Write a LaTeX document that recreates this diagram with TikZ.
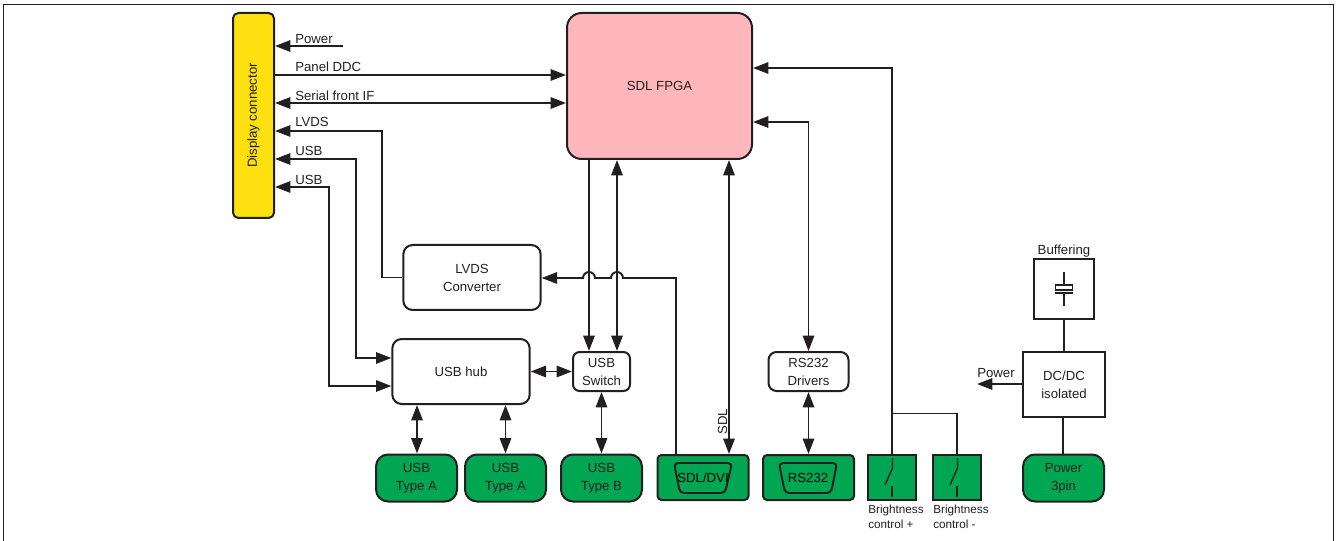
\documentclass[tikz,border=0pt]{standalone}
\usepackage{fontspec}
\setmainfont{Liberation Sans}
\usetikzlibrary {arrows.meta}
\usetikzlibrary {shapes.geometric}
\definecolor{boardgreen}{RGB}{0,166,81}
\definecolor{fpgapink}{RGB}{255,183,188}
\definecolor{connyellow}{RGB}{253,224,16}
\definecolor{inkgrey}{RGB}{35,31,32}
\tikzset{
  block/.style={draw=inkgrey, line width=1.5pt, rounded corners=7pt, align=center, inner sep=0pt, font=\fontsize{9.9pt}{13.5pt}\selectfont, text=inkgrey},
  plainbox/.style={block, rounded corners=0pt},
  portbox/.style={block, fill=boardgreen, rounded corners=9pt},
  jackbox/.style={block, fill=boardgreen, rounded corners=3pt},
  wire/.style={draw=inkgrey, line width=1.45pt},
  oneway/.style={wire, -{Triangle[length=11.5pt,width=8.5pt]}},
  twoway/.style={wire, {Triangle[length=11.5pt,width=8.5pt]}-{Triangle[length=11.5pt,width=8.5pt]}},
  lbl/.style={font=\fontsize{9.9pt}{12pt}\selectfont, text=inkgrey, inner sep=0pt},
  smalllbl/.style={font=\fontsize{8.8pt}{11pt}\selectfont, text=inkgrey, inner sep=0pt, align=left},
}
\begin{document}
\begin{tikzpicture}[x=0.75pt, y=-0.75pt]
        \useasboundingbox (0, 0) rectangle (1337, 541);
        % frame
        \draw [line width=1pt, color=inkgrey] (3.5, 541) -- (3.5, 4.5) -- (1333.5, 4.5) -- (1333.5, 541);
        % top row
        \node [block, fill=connyellow, minimum width=30.75pt, minimum height=153.75pt, rounded corners=4pt] (display) at (253.5, 115.5) {\rotatebox{90}{Display connector}};
        \node [block, fill=fpgapink, minimum width=138.75pt, minimum height=109.5pt, rounded corners=11pt] (fpga) at (659.5, 86) {SDL FPGA};
        % middle row
        \node [block, minimum width=103pt, minimum height=48.75pt] (lvds) at (472, 277.5) {LVDS\\Converter};
        \node [block, minimum width=103pt, minimum height=48.75pt] (hub) at (461, 371.5) {USB hub};
        \node [block, minimum width=42.75pt, minimum height=29.25pt, rounded corners=5pt] (switch) at (601.5, 371.5) {USB\\Switch};
        \node [block, minimum width=60pt, minimum height=29.25pt, rounded corners=6pt] (drivers) at (808.5, 371.5) {RS232\\Drivers};
        \node [plainbox, minimum width=45pt, minimum height=45pt] (buffer) at (1064, 289) {};
        \node [plainbox, minimum width=61.5pt, minimum height=48.75pt] (dcdc) at (1064, 384.5) {DC/DC\\isolated};
        % bottom row
        \node [portbox, minimum width=60.75pt, minimum height=35.25pt] (typea) at (416.5, 478) {USB\\Type A};
        \node [portbox, minimum width=60.75pt, minimum height=35.25pt] (typeb) at (505.5, 478) {USB\\Type A};
        \node [portbox, minimum width=60.75pt, minimum height=35.25pt] (typec) at (601.5, 478) {USB\\Type B};
        \node [jackbox, minimum width=68.25pt, minimum height=33.75pt] (dvi) at (703, 477.5) {};
        \node [jackbox, minimum width=68.25pt, minimum height=33.75pt] (serial) at (808.5, 477.5) {};
        \node [plainbox, fill=boardgreen, minimum width=36pt, minimum height=33.75pt] (brightup) at (892, 477.5) {};
        \node [plainbox, fill=boardgreen, minimum width=36pt, minimum height=33.75pt] (brightdown) at (957, 477.5) {};
        \node [portbox, minimum width=60.75pt, minimum height=35.25pt] (power) at (1063.5, 478) {Power\\3pin};
        % connector faces
        \draw [wire, fill=boardgreen, rounded corners=3pt] (674, 463) -- (732, 463) -- (725, 493) -- (680, 493) -- cycle;
        \node [lbl, text=black] (dvilabel) at (703, 478) {SDL/DVI};
        \draw [wire, fill=boardgreen, rounded corners=3pt] (779, 463) -- (837, 463) -- (831, 493) -- (785, 493) -- cycle;
        \node [lbl, text=black] (seriallabel) at (808, 478) {RS232};
        % switches
        \foreach \n/\sx in {up/892, down/957} {
          \draw [wire, line width=1pt] (\sx+0.5, 458) -- (\sx+0.5, 468) -- (\sx-7, 485);
          \draw [wire] (\sx, 486) -- (\sx, 497);
        }
        % capacitor
        \draw [wire] (1064, 272) -- (1064, 285) (1064, 293) -- (1064, 306);
        \draw [wire, fill=white] (1055.5, 285) rectangle (1072.5, 290);
        \draw [wire] (1055, 293) -- (1073, 293);
        % left side
        \coordinate (powerend) at (343, 46);
        \draw [oneway] (powerend) -- (display.east |- powerend);
        \node [lbl, anchor=base west] (powerlabel) at (295, 43.5) {Power};
        \draw [oneway] (display.east |- 0, 75) -- (fpga.west |- 0, 75);
        \node [lbl, anchor=base west] (ddclabel) at (295, 71.5) {Panel DDC};
        \draw [twoway] (display.east |- 0, 103) -- (fpga.west |- 0, 103);
        \node [lbl, anchor=base west] (seriallbl) at (295, 100.5) {Serial front IF};
        \draw [oneway] (lvds.west) -- (382, 277.5) -- (382, 131) -- (display.east |- 0, 131);
        \node [lbl, anchor=base west] (lvdslabel) at (295, 126.5) {LVDS};
        \draw [twoway] (hub.west |- 0, 358) -- (356, 358) -- (356, 159) -- (display.east |- 0, 159);
        \node [lbl, anchor=base west] (usblabel) at (295, 155.5) {USB};
        \draw [twoway] (hub.west |- 0, 386) -- (329, 386) -- (329, 187) -- (display.east |- 0, 187);
        \node [lbl, anchor=base west] (usblabeltwo) at (295, 184.5) {USB};
        % fpga down
        \draw [oneway] (fpga.south -| 589, 0) -- (switch.north -| 589, 0);
        \draw [twoway] (fpga.south -| 617, 0) -- (switch.north -| 617, 0);
        \draw [twoway] (fpga.south -| 729, 0) -- (dvi.north -| 729, 0);
        \node [lbl, rotate=90, anchor=base west] (sdllabel) at (727, 435) {SDL};
        \draw [twoway] (fpga.east |- 0, 122) -- (808.5, 122) -- (drivers.north);
        \draw [oneway] (brightup.north) -- (892, 68) -- (fpga.east |- 0, 68);
        \draw [wire] (brightdown.north) -- (957, 413.5) -- (892, 413.5);
        % lvds feed with hops
        \draw [oneway] (dvi.north -| 676, 0) -- (676, 278) -- (623, 278) arc (0:-180:6) -- (595, 278) arc (0:-180:6) -- (lvds.east |- 0, 278);
        % usb links
        \draw [twoway] (hub.east) -- (switch.west);
        \draw [twoway] (hub.south -| 417, 0) -- (typea.north -| 417, 0);
        \draw [twoway] (hub.south -| 505.5, 0) -- (typeb.north);
        \draw [twoway] (switch.south) -- (typec.north);
        \draw [twoway] (drivers.south) -- (serial.north);
        % power side
        \draw [wire] (buffer.south) -- (dcdc.north);
        \draw [wire] (dcdc.south -| 1063, 0) -- (power.north -| 1063, 0);
        \coordinate (outpower) at (977, 384);
        \draw [oneway] (dcdc.west |- outpower) -- (outpower);
        \node [lbl, anchor=base west] (outlabel) at (977, 377) {Power};
        \node [lbl, anchor=base] (bufferlabel) at (1064, 254.5) {Buffering};
        % small labels
        \node [smalllbl, anchor=north west] (brightuplabel) at (868, 505) {Brightness\\control +};
        \node [smalllbl, anchor=north west] (brightdownlabel) at (933, 505) {Brightness\\control -};
      \end{tikzpicture}
\end{document}
